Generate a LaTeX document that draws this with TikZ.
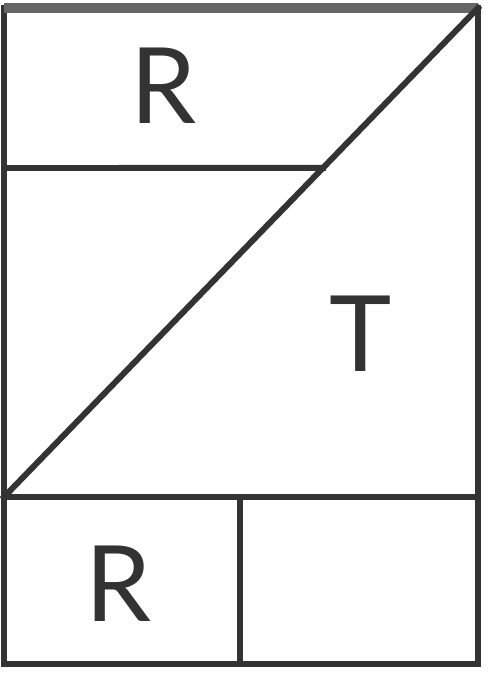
\documentclass[tikz,border=0pt]{standalone}
\usepackage{fontspec}
\setmainfont{Lato}
\usepackage{tikz}

\begin{document}
\begin{tikzpicture}[line width=1.7pt,inner sep=1pt]
\definecolor{ink}{HTML}{333333}
\tikzset{part/.style={draw=ink,line cap=rect},lbl/.style={text=ink,font=\fontsize{30}{30}\selectfont}}
\useasboundingbox (0,0) rectangle (5,6.8);
\coordinate (tl) at (0.04,6.72);
\coordinate (tr) at (4.78,6.72);
\coordinate (bl) at (0.04,0.16);
\coordinate (br) at (4.78,0.16);
\coordinate (ml) at (0.04,5.12);
\coordinate (mr) at (4.78,5.12);
\coordinate (ll) at (0.04,1.83);
\coordinate (lr) at (4.78,1.83);
\coordinate (lt) at (2.40,1.83);
\coordinate (lb) at (2.40,0.16);
\coordinate (mx) at (intersection of ll--tr and ml--mr);
\draw[part] (tl) -- (bl) -- (br) -- (tr);
\draw[draw=black!60,line width=2.6pt] (tl) -- (tr);
\draw[part] (ml) -- (mx);
\draw[part] (ll) -- (lr) (lt) -- (lb);
\draw[part] (ll) -- (tr);
\node[lbl] (r1) at (1.64,5.94) {R};
\node[lbl] (t1) at (3.61,3.46) {T};
\node[lbl] (r2) at (1.19,0.96) {R};
\end{tikzpicture}
\end{document}
